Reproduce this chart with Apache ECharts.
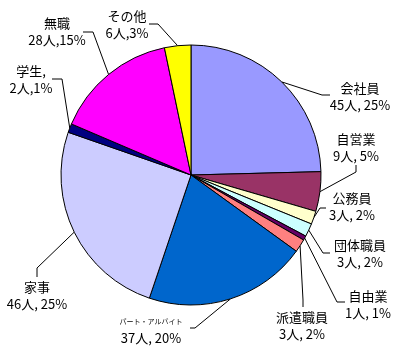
<!DOCTYPE html>
<html lang="ja">
<head>
    <meta charset="UTF-8">
    <title>職業別</title>
    <script src="https://cdn.jsdelivr.net/npm/echarts@6/dist/echarts.min.js"></script>
    <style>
        body { margin: 0; background: #fff; }
    </style>
</head>
<body>
<div id="main" style="width: 394px;height:352px;"></div>
<script type="text/javascript">
    // データ（12時の位置から時計回り）
    var categories = ['会社員', '自営業', '公務員', '団体職員', '自由業', '派遣職員', 'パート・アルバイト', '家事', '学生', '無職', 'その他'];
    var counts = [45, 9, 3, 3, 1, 3, 37, 46, 2, 28, 6];
    var seps = [', ', ', ', ', ', ', ', ', ', ', ', ', ', ', ', ',', ',', ','];
    var colors = ['#9999FF', '#993366', '#FFFFCC', '#CCFFFF', '#660066', '#FF8080', '#0066CC', '#CCCCFF', '#000080', '#FF00FF', '#FFFF00'];

    // ラベルの位置と引き出し線の折れ点
    var labelPos = [[360, 97], [356, 148], [352, 207], [360, 254], [368, 305], [302, 326], [151, 330], [37, 296], [31, 80], [57, 32], [127, 25]];
    var elbows = [[322, 95], [356, 172], [320, 208], [323, 253], [337, 302], [303, 300], [195, 328], [37, 268], [62, 79], [93, 32], [158, 24]];
    var ends = [[330, 95], [356, 165], [326, 208], [330, 253], [345, 302], [303, 307], [190, 328], [37, 277], [52, 79], [83, 32], [149, 24]];

    var total = counts.reduce(function (a, b) { return a + b; }, 0);
    var data = categories.map(function (c, i) {
        return { name: c, value: counts[i], itemStyle: { color: colors[i] } };
    });

    var myChart = echarts.init(document.getElementById('main'));
    myChart.setOption({
        animation: false,
        textStyle: { fontFamily: '"Noto Sans CJK JP", sans-serif' },
        series: [{
            type: 'pie',
            center: [191, 175],
            radius: 130,
            startAngle: 90,
            clockwise: true,
            avoidLabelOverlap: false,
            silent: true,
            data: data,
            itemStyle: { borderColor: '#000', borderWidth: 1 },
            label: {
                show: true,
                position: 'outside',
                color: '#000',
                fontSize: 13,
                lineHeight: 17,
                align: 'center',
                formatter: function (p) {
                    var i = p.dataIndex;
                    var pct = Math.round(p.value / total * 100);
                    var title = p.name + (i === 8 ? ',' : '');
                    var t = i === 6 ? '{s|' + title + '}' : '{n|' + title + '}';
                    return t + '\n{n|' + p.value + '人' + seps[i] + pct + '%}';
                },
                rich: {
                    n: { fontSize: 13, lineHeight: 17, color: '#000' },
                    s: { fontSize: 7, lineHeight: 17, color: '#000' }
                }
            },
            labelLine: {
                show: true,
                lineStyle: { color: '#000', width: 1 }
            },
            labelLayout: function (params) {
                var i = params.dataIndex;
                var start = params.labelLinePoints ? params.labelLinePoints[0] : elbows[i];
                return {
                    x: labelPos[i][0],
                    y: labelPos[i][1],
                    align: 'center',
                    verticalAlign: 'middle',
                    labelLinePoints: [start, elbows[i], ends[i]]
                };
            }
        }]
    });
</script>
</body>
</html>
